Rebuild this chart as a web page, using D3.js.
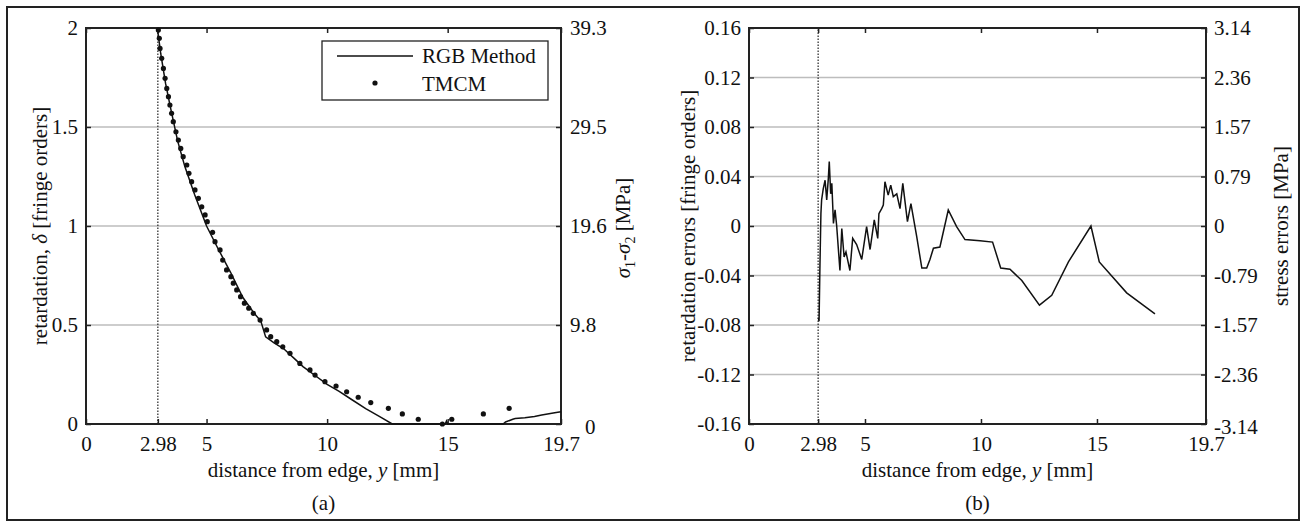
<!DOCTYPE html>
<html>
<head>
<meta charset="utf-8">
<script src="https://cdn.jsdelivr.net/npm/d3@7"></script>
<style>
  body { margin: 0; background: #fff; }
  svg text { font-family: "Liberation Serif", "Times New Roman", serif !important; fill: #111; }
</style>
</head>
<body>
<div id="fig"></div>
<script>
// x axis (shared)
const xTicks = [0, 2.98, 5, 10, 15, 19.7];
const xTickLabels = ["0", "2.98", "5", "10", "15", "19.7"];

// panel (a): retardation vs distance
const yTicksA = [0, 0.5, 1, 1.5, 2];
const yTickLabelsA = ["0", "0.5", "1", "1.5", "2"];
const stressLabelsA = ["0", "9.8", "19.6", "29.5", "39.3"];

const rgbX = [2.98, 3.1, 3.3, 3.5, 3.8, 4.1, 4.5, 5.0, 5.5, 6.0, 6.5, 7.0, 7.25, 7.45, 7.8, 8.2, 8.6, 9.0, 9.5, 10.0, 10.5, 11.0, 11.6, 12.2, 12.7, 14.9, 14.95, 15.0, 17.3, 17.4, 17.7, 17.8, 18.2, 18.6, 18.9, 19.2, 19.5, 19.7];
const rgbY = [1.98, 1.87, 1.72, 1.6, 1.43, 1.3, 1.16, 1.0, 0.88, 0.765, 0.64, 0.555, 0.52, 0.44, 0.41, 0.38, 0.335, 0.29, 0.245, 0.2, 0.165, 0.125, 0.078, 0.036, 0, 0, 0.015, 0, 0, 0.01, 0.024, 0.028, 0.032, 0.038, 0.045, 0.052, 0.058, 0.062];

const tmcmX = [3.0, 3.04, 3.07, 3.14, 3.21, 3.28, 3.35, 3.42, 3.48, 3.55, 3.62, 3.73, 3.83, 3.93, 4.03, 4.18, 4.27, 4.38, 4.52, 4.66, 4.80, 4.94, 5.03, 5.25, 5.35, 5.56, 5.67, 5.83, 6.01, 6.11, 6.25, 6.41, 6.57, 6.75, 6.94, 7.22, 7.49, 7.66, 7.91, 8.16, 8.46, 8.87, 9.29, 9.50, 9.91, 10.37, 10.81, 11.29, 11.81, 12.54, 13.12, 13.78, 14.78, 15.17, 16.48, 17.55];
const tmcmY = [1.99, 1.948, 1.897, 1.847, 1.796, 1.746, 1.695, 1.653, 1.611, 1.569, 1.527, 1.476, 1.434, 1.392, 1.35, 1.308, 1.266, 1.224, 1.182, 1.14, 1.097, 1.056, 1.022, 0.968, 0.921, 0.879, 0.828, 0.778, 0.744, 0.711, 0.677, 0.643, 0.61, 0.585, 0.559, 0.525, 0.475, 0.441, 0.416, 0.39, 0.357, 0.306, 0.273, 0.247, 0.214, 0.192, 0.163, 0.135, 0.108, 0.079, 0.051, 0.024, 0.0, 0.024, 0.051, 0.079];

// panel (b): retardation errors vs distance
const yTicksB = [-0.16, -0.12, -0.08, -0.04, 0, 0.04, 0.08, 0.12, 0.16];
const yTickLabelsB = ["-0.16", "-0.12", "-0.08", "-0.04", "0", "0.04", "0.08", "0.12", "0.16"];
const stressLabelsB = ["-3.14", "-2.36", "-1.57", "-0.79", "0", "0.79", "1.57", "2.36", "3.14"];

const errX = [2.99, 3.02, 3.06, 3.1, 3.13, 3.2, 3.28, 3.35, 3.42, 3.46, 3.52, 3.57, 3.64, 3.71, 3.78, 3.92, 4.0, 4.1, 4.18, 4.35, 4.47, 4.64, 4.86, 5.07, 5.22, 5.4, 5.55, 5.6, 5.72, 5.79, 5.86, 6.0, 6.11, 6.22, 6.37, 6.51, 6.63, 6.83, 6.98, 7.23, 7.45, 7.66, 7.8, 7.95, 8.23, 8.59, 8.95, 9.31, 9.96, 10.5, 10.85, 11.25, 11.76, 12.52, 13.05, 13.77, 14.74, 15.1, 16.28, 17.5];
const errY = [-0.074, -0.077, -0.03, 0.01, 0.021, 0.03, 0.037, 0.021, 0.0385, 0.052, 0.026, 0.0345, 0.002, 0.013, 0.0, -0.036, -0.002, -0.025, -0.021, -0.036, -0.01, -0.015, -0.027, -0.0005, -0.019, 0.005, -0.01, 0.01, 0.014, 0.017, 0.0358, 0.025, 0.033, 0.0237, 0.026, 0.014, 0.0345, 0.0035, 0.018, -0.0086, -0.034, -0.034, -0.027, -0.018, -0.017, 0.0129, -0.0005, -0.011, -0.012, -0.013, -0.034, -0.035, -0.044, -0.064, -0.056, -0.029, 0.0, -0.029, -0.054, -0.071];

const W = 1306, H = 527;
const FS = 21;
const SERIF = "'Liberation Serif', 'Times New Roman', serif";

const svg = d3.select("#fig").append("svg")
    .attr("width", W)
    .attr("height", H)
    .style("font-family", SERIF);

// outer frame
svg.append("rect")
    .attr("x", 7).attr("y", 7)
    .attr("width", 1292).attr("height", 513)
    .attr("fill", "none").attr("stroke", "#222").attr("stroke-width", 2);

function drawPanel(p) {
    const x = d3.scaleLinear().domain([0, 19.7]).range([p.left, p.right]);
    const y = d3.scaleLinear().domain(p.yDomain).range([p.bottom, p.top]);

    // gridlines
    svg.append("g").selectAll("line")
        .data(p.yTicks.slice(1, -1))
        .enter().append("line")
        .attr("x1", p.left).attr("x2", p.right)
        .attr("y1", d => y(d)).attr("y2", d => y(d))
        .attr("stroke", "#bdbdbd").attr("stroke-width", 1.3);

    // dotted line at the edge position
    svg.append("line")
        .attr("x1", x(2.98)).attr("x2", x(2.98))
        .attr("y1", p.bottom).attr("y2", p.top)
        .attr("stroke", "#222").attr("stroke-width", 1.2)
        .attr("stroke-dasharray", "1.5,1.5");

    // axes (ticks pointing inward)
    svg.append("g")
        .attr("transform", "translate(0," + p.bottom + ")")
        .call(d3.axisBottom(x).tickValues(xTicks)
            .tickFormat((d, i) => xTickLabels[i])
            .tickSizeInner(-5).tickSizeOuter(0).tickPadding(12));
    svg.append("g")
        .attr("transform", "translate(0," + p.top + ")")
        .call(d3.axisTop(x).tickValues(xTicks).tickFormat("")
            .tickSizeInner(-5).tickSizeOuter(0));
    svg.append("g")
        .attr("transform", "translate(" + p.left + ",0)")
        .call(d3.axisLeft(y).tickValues(p.yTicks)
            .tickFormat((d, i) => p.yLabels[i])
            .tickSizeInner(-5).tickSizeOuter(0).tickPadding(p.padL));
    const right = svg.append("g")
        .attr("transform", "translate(" + p.right + ",0)")
        .call(d3.axisRight(y).tickValues(p.yTicks)
            .tickFormat((d, i) => p.rLabels[i])
            .tickSizeInner(-5).tickSizeOuter(0).tickPadding(p.padR));
    // the lowest right-hand label sits a little to the right, clear of the x labels
    right.selectAll(".tick text").filter((d, i) => i === 0)
        .attr("dx", p.zeroShift).attr("dy", "0.45em");

    svg.selectAll(".domain").remove();
    svg.selectAll(".tick line").attr("stroke", "#222").attr("stroke-width", 1.5);
    svg.selectAll(".tick text")
        .attr("fill", "#111")
        .style("font-family", SERIF)
        .style("font-size", FS + "px");

    // box
    svg.append("rect")
        .attr("x", p.left).attr("y", p.top)
        .attr("width", p.right - p.left).attr("height", p.bottom - p.top)
        .attr("fill", "none").attr("stroke", "#222").attr("stroke-width", 2);

    // x label
    const xl = svg.append("text")
        .attr("x", (p.left + p.right) / 2).attr("y", 477)
        .attr("text-anchor", "middle").attr("font-size", FS);
    xl.append("tspan").text("distance from edge, ");
    xl.append("tspan").attr("font-style", "italic").text("y");
    xl.append("tspan").text(" [mm]");

    svg.append("text")
        .attr("x", (p.left + p.right) / 2).attr("y", 510)
        .attr("text-anchor", "middle").attr("font-size", FS)
        .text(p.tag);

    return { x, y };
}

// ---- panel (a)
const a = drawPanel({
    left: 86, right: 561, top: 28, bottom: 424,
    yDomain: [0, 2], yTicks: yTicksA, yLabels: yTickLabelsA, rLabels: stressLabelsA,
    padL: 8, padR: 9, zeroShift: 15, tag: "(a)"
});

svg.append("path")
    .datum(rgbX.map((d, i) => [d, rgbY[i]]))
    .attr("fill", "none").attr("stroke", "#111").attr("stroke-width", 1.5)
    .attr("d", d3.line().x(d => a.x(d[0])).y(d => a.y(d[1])));

svg.append("g").selectAll("circle")
    .data(tmcmX)
    .enter().append("circle")
    .attr("cx", d => a.x(d))
    .attr("cy", (d, i) => a.y(tmcmY[i]))
    .attr("r", 2.6)
    .attr("fill", "#111");

// left label
const yl = svg.append("text")
    .attr("transform", "translate(47,226) rotate(-90)")
    .attr("text-anchor", "middle").attr("font-size", FS);
yl.append("tspan").text("retardation, ");
yl.append("tspan").attr("font-style", "italic").text("δ");
yl.append("tspan").text(" [fringe orders]");

// right label
const yr = svg.append("text")
    .attr("transform", "translate(630,228) rotate(-90)")
    .attr("text-anchor", "middle").attr("font-size", FS);
yr.append("tspan").attr("font-style", "italic").text("σ");
yr.append("tspan").attr("font-size", 14).attr("dy", 5).text("1");
yr.append("tspan").attr("dy", -5).text("-");
yr.append("tspan").attr("font-style", "italic").text("σ");
yr.append("tspan").attr("font-size", 14).attr("dy", 5).text("2");
yr.append("tspan").attr("dy", -5).text(" [MPa]");

// legend
svg.append("rect")
    .attr("x", 322).attr("y", 41).attr("width", 226).attr("height", 59)
    .attr("fill", "#fff").attr("stroke", "#222").attr("stroke-width", 1.3);
svg.append("line")
    .attr("x1", 337).attr("x2", 413).attr("y1", 56).attr("y2", 56)
    .attr("stroke", "#111").attr("stroke-width", 1.5);
svg.append("circle").attr("cx", 375).attr("cy", 83).attr("r", 2.6).attr("fill", "#111");
svg.append("text").attr("x", 422).attr("y", 63).attr("font-size", FS).text("RGB Method");
svg.append("text").attr("x", 422).attr("y", 91).attr("font-size", FS).text("TMCM");

// ---- panel (b)
const b = drawPanel({
    left: 749, right: 1206, top: 28, bottom: 424,
    yDomain: [-0.16, 0.16], yTicks: yTicksB, yLabels: yTickLabelsB, rLabels: stressLabelsB,
    padL: 8, padR: 8, zeroShift: 0, tag: "(b)"
});

svg.append("path")
    .datum(errX.map((d, i) => [d, errY[i]]))
    .attr("fill", "none").attr("stroke", "#111").attr("stroke-width", 1.5)
    .attr("d", d3.line().x(d => b.x(d[0])).y(d => b.y(d[1])));

svg.append("text")
    .attr("transform", "translate(695,226) rotate(-90)")
    .attr("text-anchor", "middle").attr("font-size", FS)
    .text("retardation errors [fringe orders]");

svg.append("text")
    .attr("transform", "translate(1288,226) rotate(-90)")
    .attr("text-anchor", "middle").attr("font-size", FS)
    .text("stress errors [MPa]");
</script>
</body>
</html>
